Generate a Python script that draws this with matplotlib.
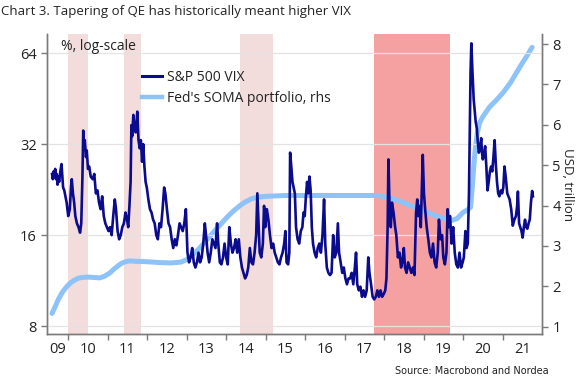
import matplotlib
matplotlib.use("Agg")
import matplotlib.pyplot as plt
from matplotlib.lines import Line2D
import numpy as np

plt.rcParams['font.family'] = ['Open Sans', 'DejaVu Sans']

title = "Chart 3. Tapering of QE has historically meant higher VIX"
source = "Source: Macrobond and Nordea"
unit_left = "%, log-scale"
unit_right = "USD, trillion"
series_names = ["S&P 500 VIX", "Fed's SOMA portfolio, rhs"]

year_labels = ["09", "10", "11", "12", "13", "14", "15", "16", "17", "18", "19", "20", "21"]
left_ticks = [8, 16, 32, 64]
right_ticks = [1, 2, 3, 4, 5, 6, 7, 8]

# shaded tapering periods (decimal years)
taper_light = [(2010.00, 2010.49), (2011.42, 2011.84), (2014.34, 2015.19)]
taper_strong = [(2017.74, 2019.68)]

# S&P 500 VIX (decimal year, level)
vix_t = [
    2009.59, 2009.61, 2009.63, 2009.65, 2009.67, 2009.69, 2009.71, 2009.73, 2009.75, 2009.77,
    2009.80, 2009.83, 2009.85, 2009.87, 2009.90, 2009.93, 2009.96, 2010.00, 2010.04, 2010.07,
    2010.09, 2010.12, 2010.15, 2010.18, 2010.22, 2010.26, 2010.30, 2010.33, 2010.36, 2010.38,
    2010.40, 2010.42, 2010.45, 2010.47, 2010.50, 2010.53, 2010.57, 2010.62, 2010.66, 2010.70,
    2010.74, 2010.78, 2010.82, 2010.86, 2010.90, 2010.94, 2010.98,
    2011.02, 2011.06, 2011.10, 2011.14, 2011.18, 2011.21, 2011.25, 2011.29, 2011.33, 2011.37,
    2011.41, 2011.45, 2011.49, 2011.52, 2011.55, 2011.58, 2011.60, 2011.62, 2011.65, 2011.68,
    2011.71, 2011.73, 2011.75, 2011.78, 2011.81, 2011.84, 2011.87, 2011.90, 2011.93, 2011.96,
    2011.99,
    2012.03, 2012.07, 2012.11, 2012.15, 2012.19, 2012.23, 2012.27, 2012.31, 2012.35, 2012.39,
    2012.43, 2012.46, 2012.50, 2012.54, 2012.58, 2012.62, 2012.66, 2012.70, 2012.74, 2012.78,
    2012.82, 2012.86, 2012.90, 2012.94, 2012.98,
    2013.02, 2013.06, 2013.10, 2013.14, 2013.18, 2013.22, 2013.26, 2013.30, 2013.34, 2013.38,
    2013.42, 2013.46, 2013.49, 2013.53, 2013.57, 2013.61, 2013.65, 2013.69, 2013.73, 2013.77,
    2013.80, 2013.84, 2013.88, 2013.92, 2013.96,
    2014.00, 2014.04, 2014.08, 2014.12, 2014.16, 2014.20, 2014.24, 2014.28, 2014.32, 2014.36,
    2014.40, 2014.44, 2014.48, 2014.52, 2014.56, 2014.60, 2014.64, 2014.68, 2014.72, 2014.76,
    2014.79, 2014.81, 2014.85, 2014.89, 2014.93, 2014.96, 2014.99,
    2015.03, 2015.07, 2015.11, 2015.15, 2015.19, 2015.23, 2015.27, 2015.31, 2015.35, 2015.39,
    2015.43, 2015.47, 2015.50, 2015.53, 2015.57, 2015.60, 2015.62, 2015.65, 2015.68, 2015.71,
    2015.74, 2015.77, 2015.81, 2015.85, 2015.89, 2015.93, 2015.96, 2015.99,
    2016.02, 2016.05, 2016.08, 2016.11, 2016.14, 2016.17, 2016.20, 2016.24, 2016.28, 2016.32,
    2016.36, 2016.40, 2016.44, 2016.48, 2016.51, 2016.55, 2016.59, 2016.63, 2016.67, 2016.71,
    2016.75, 2016.79, 2016.83, 2016.86, 2016.90, 2016.94, 2016.98,
    2017.02, 2017.06, 2017.10, 2017.14, 2017.18, 2017.22, 2017.26, 2017.29, 2017.32, 2017.36,
    2017.40, 2017.44, 2017.48, 2017.52, 2017.56, 2017.60, 2017.63, 2017.67, 2017.71, 2017.75,
    2017.79, 2017.83, 2017.87, 2017.91, 2017.95, 2017.99,
    2018.03, 2018.06, 2018.09, 2018.11, 2018.14, 2018.17, 2018.20, 2018.24, 2018.28, 2018.31,
    2018.35, 2018.39, 2018.43, 2018.46, 2018.50, 2018.53, 2018.57, 2018.61, 2018.65, 2018.69,
    2018.73, 2018.77, 2018.81, 2018.84, 2018.87, 2018.90, 2018.93, 2018.96, 2018.98,
    2019.01, 2019.04, 2019.08, 2019.12, 2019.16, 2019.20, 2019.24, 2019.28, 2019.32, 2019.36,
    2019.39, 2019.43, 2019.47, 2019.50, 2019.54, 2019.58, 2019.61, 2019.64, 2019.67, 2019.71,
    2019.75, 2019.79, 2019.83, 2019.87, 2019.91, 2019.95, 2019.99,
    2020.02, 2020.06, 2020.09, 2020.12, 2020.15, 2020.17, 2020.19, 2020.21, 2020.24, 2020.27,
    2020.29, 2020.32, 2020.35, 2020.37, 2020.40, 2020.43, 2020.46, 2020.48, 2020.50, 2020.53,
    2020.56, 2020.59, 2020.62, 2020.65, 2020.68, 2020.71, 2020.74, 2020.77, 2020.80, 2020.83,
    2020.86, 2020.89, 2020.92, 2020.96, 2020.99,
    2021.02, 2021.05, 2021.08, 2021.12, 2021.15, 2021.18, 2021.22, 2021.26, 2021.30, 2021.34,
    2021.37, 2021.39, 2021.42, 2021.45, 2021.48, 2021.51, 2021.54, 2021.57, 2021.60, 2021.63,
    2021.66, 2021.69, 2021.72, 2021.75, 2021.77,
]
vix_v = [
    25.5, 24.5, 26.0, 25.0, 26.5, 24.5, 25.5, 23.5, 25.0, 24.0,
    26.0, 27.5, 25.0, 23.0, 22.5, 21.5, 20.5, 18.5, 19.5, 23.0,
    24.5, 22.0, 20.5, 18.5, 17.5, 17.0, 16.3, 17.5, 25.0, 35.5,
    32.0, 33.0, 29.0, 30.5, 26.5, 27.0, 25.0, 24.5, 25.5, 22.0,
    22.5, 20.5, 19.5, 21.5, 18.5, 17.5, 17.0,
    16.5, 17.0, 16.0, 18.5, 21.0, 19.5, 16.5, 15.5, 16.0, 17.0,
    17.5, 19.0, 18.0, 17.0, 20.0, 24.0, 37.0, 34.0, 40.0, 36.0,
    35.0, 38.0, 41.0, 33.0, 31.0, 33.0, 28.0, 32.0, 27.0, 24.0,
    23.0,
    21.0, 19.5, 19.0, 18.0, 17.5, 16.0, 15.5, 17.5, 17.0, 19.5,
    23.0, 22.0, 19.5, 17.5, 17.0, 15.5, 14.5, 15.5, 14.8, 16.0,
    17.5, 17.0, 16.5, 17.5, 19.5,
    14.0, 13.0, 13.5, 14.5, 13.0, 12.5, 13.0, 14.0, 13.0, 13.5,
    15.0, 17.5, 16.0, 14.0, 13.0, 14.0, 15.5, 15.0, 14.5, 17.5,
    15.0, 13.0, 12.8, 13.5, 15.0,
    13.5, 12.8, 17.0, 15.0, 14.0, 14.5, 15.5, 14.0, 15.5, 13.5,
    12.5, 12.0, 11.5, 11.8, 12.5, 14.5, 13.0, 12.8, 14.0, 16.0,
    22.0, 19.0, 14.0, 13.5, 15.0, 20.0, 17.0,
    19.5, 18.0, 16.0, 14.5, 15.0, 14.0, 13.5, 13.0, 12.8, 13.5,
    14.0, 15.0, 16.5, 13.0, 12.8, 14.0, 30.0, 27.0, 24.0, 23.0,
    22.0, 17.0, 15.5, 15.0, 16.5, 17.0, 19.0, 18.5,
    21.5, 24.0, 22.0, 25.0, 22.5, 17.0, 15.0, 14.0, 13.5, 14.5,
    15.0, 14.0, 16.0, 21.0, 15.0, 12.5, 12.0, 11.8, 12.0, 16.0,
    13.5, 14.0, 17.5, 14.0, 13.0, 12.0, 12.5,
    11.5, 11.0, 11.5, 11.5, 12.0, 11.0, 12.5, 14.0, 11.0, 10.5,
    10.8, 10.0, 10.5, 10.0, 10.5, 13.5, 12.0, 11.0, 10.0, 9.8,
    10.0, 10.5, 10.0, 10.5, 10.0, 10.2,
    10.5, 11.5, 17.0, 28.5, 19.5, 17.0, 20.5, 19.0, 17.0, 16.0,
    13.5, 14.0, 12.5, 13.0, 14.5, 12.5, 12.0, 13.0, 12.5, 12.0,
    12.5, 11.8, 19.0, 21.0, 18.5, 20.0, 17.0, 24.0, 29.5,
    22.0, 19.5, 17.0, 15.5, 14.0, 13.5, 15.0, 13.0, 12.5, 14.0,
    18.0, 15.5, 16.0, 13.5, 12.8, 14.0, 19.5, 17.0, 18.5, 15.0,
    17.0, 14.0, 12.8, 12.5, 14.0, 12.5, 13.0,
    13.5, 16.5, 14.5, 15.0, 22.0, 36.0, 55.0, 69.0, 55.0, 45.0,
    42.0, 38.0, 36.0, 33.0, 30.0, 31.0, 33.5, 30.0, 28.5, 29.5,
    31.5, 27.0, 22.5, 24.0, 26.0, 27.0, 26.0, 29.0, 33.0, 27.5,
    24.0, 22.0, 21.5, 22.5, 22.0,
    23.0, 27.0, 25.0, 22.0, 21.5, 21.0, 19.5, 17.2, 18.0, 18.5,
    20.0, 22.3, 17.5, 17.0, 16.5, 15.7, 17.0, 18.0, 17.0, 16.8,
    17.5, 18.0, 20.5, 22.4, 21.5,
]

# Fed's SOMA portfolio (decimal year, USD trillion)
soma_t = [
    2009.59, 2009.67, 2009.75, 2009.85, 2009.95, 2010.05, 2010.15, 2010.25, 2010.35, 2010.50,
    2010.65, 2010.80, 2010.92, 2011.05, 2011.15, 2011.25, 2011.35, 2011.45, 2011.55, 2011.70,
    2012.00, 2012.30, 2012.60, 2012.85, 2013.00, 2013.15, 2013.30, 2013.45, 2013.60, 2013.75,
    2013.90, 2014.05, 2014.20, 2014.35, 2014.50, 2014.65, 2014.80, 2015.00, 2015.50, 2016.00,
    2016.50, 2017.00, 2017.50, 2017.85, 2018.00, 2018.25, 2018.50, 2018.75, 2019.00, 2019.25,
    2019.50, 2019.70, 2019.85, 2020.00, 2020.12, 2020.19, 2020.23, 2020.27, 2020.31, 2020.36,
    2020.42, 2020.50, 2020.67, 2020.85, 2021.00, 2021.20, 2021.45, 2021.60, 2021.75,
]
soma_v = [
    1.33, 1.50, 1.68, 1.85, 1.98, 2.08, 2.15, 2.20, 2.22, 2.23,
    2.22, 2.21, 2.25, 2.33, 2.42, 2.50, 2.57, 2.61, 2.63, 2.62,
    2.61, 2.59, 2.58, 2.60, 2.66, 2.78, 2.92, 3.08, 3.25, 3.42,
    3.58, 3.74, 3.88, 4.00, 4.10, 4.17, 4.21, 4.23, 4.25, 4.25,
    4.25, 4.25, 4.25, 4.25, 4.22, 4.16, 4.07, 3.97, 3.87, 3.77,
    3.69, 3.63, 3.68, 3.83, 3.90, 3.96, 4.40, 4.95, 5.40, 5.80,
    6.05, 6.20, 6.44, 6.62, 6.78, 7.04, 7.45, 7.68, 7.92,
]

W, H = 582, 381
fig = plt.figure(figsize=(W / 100, H / 100), dpi=100)
ax_l, ax_r, ax_t, ax_b = 47.3, 542.0, 34.0, 334.0
ax = fig.add_axes([ax_l / W, 1 - ax_b / H, (ax_r - ax_l) / W, (ax_b - ax_t) / H])
ax2 = ax.twinx()
ax.set_zorder(ax2.get_zorder() + 1)
ax.patch.set_visible(False)

vix_col = '#0b0b8e'
soma_col = '#8dc3f9'
spine_col = '#7a7a7a'
text_col = '#222222'

for a, b in taper_light:
    ax2.axvspan(a, b, color='#f3dcdc', lw=0, zorder=0)
for a, b in taper_strong:
    ax2.axvspan(a, b, color='#f6a1a1', lw=0, zorder=0)

ax2.plot(soma_t, soma_v, color=soma_col, lw=3.6, solid_capstyle='round', zorder=2)
ax.plot(vix_t, vix_v, color=vix_col, lw=1.9, solid_joinstyle='round', zorder=3)

ax.set_yscale('log', base=2)
ax.set_ylim(7.53, 74.1)
ax2.set_ylim(0.82, 8.25)
xlim = (2009.47, 2022.0)
ax.set_xlim(*xlim)

ax.set_yticks(left_ticks)
ax.set_yticklabels([str(v) for v in left_ticks])
ax.yaxis.set_minor_locator(matplotlib.ticker.NullLocator())
ax2.set_yticks(right_ticks)
ax2.set_yticklabels([str(v) for v in right_ticks])

for v in left_ticks:
    ax.axhline(v, color='#e3e3e3', lw=0.9, zorder=1)

# x axis: ticks at year boundaries, labels centred in each year
first_year = 2009
bounds = [first_year + i for i in range(1, len(year_labels))]
ax.set_xticks(bounds)
ax.set_xticklabels([''] * len(bounds))
label_pos = []
for i in range(len(year_labels)):
    lo = max(first_year + i, xlim[0])
    hi = min(first_year + i + 1, xlim[1])
    label_pos.append((lo + hi) / 2)
ax.set_xticks(label_pos, minor=True)
ax.set_xticklabels(year_labels, minor=True)
ax.tick_params(axis='x', which='minor', length=0, pad=6, labelsize=10.5, colors=text_col)
ax.tick_params(axis='x', which='major', length=4.5, width=1, color=spine_col, direction='out')
ax.tick_params(axis='y', which='major', length=4.5, width=1, color=spine_col, labelsize=10.5,
               labelcolor=text_col, pad=3)
ax2.tick_params(axis='y', which='major', length=4.5, width=1, color=spine_col, labelsize=10.5,
                labelcolor=text_col, pad=3)

for a in (ax, ax2):
    a.spines['top'].set_visible(False)
    for s in ('left', 'right', 'bottom'):
        a.spines[s].set_color(spine_col)
        a.spines[s].set_linewidth(1.0)

fig.text(1 / W, 1 - 12 / H, title, fontsize=9.5, va='center', ha='left', color=text_col)
fig.text(61 / W, 1 - 47 / H, unit_left, fontsize=10, va='center', ha='left', color=text_col)
fig.text(567 / W, 1 - 185 / H, unit_right, fontsize=9.5, va='center', ha='center',
         rotation=270, color=text_col)
fig.text(549 / W, 1 - 371 / H, source, fontsize=7, va='center', ha='right', color=text_col,
         family=['Liberation Sans Narrow', 'DejaVu Sans'])

handles = [Line2D([], [], color=vix_col, lw=2.2), Line2D([], [], color=soma_col, lw=3.2)]
leg = ax.legend(handles, series_names, loc='upper left',
                bbox_to_anchor=(142 / W, 1 - 70 / H), bbox_transform=fig.transFigure,
                frameon=False, borderpad=0, borderaxespad=0, handlelength=1.45,
                handletextpad=0.35, labelspacing=0.45, fontsize=10)
for t in leg.get_texts():
    t.set_color(text_col)

fig.savefig('out.png', dpi=100)
